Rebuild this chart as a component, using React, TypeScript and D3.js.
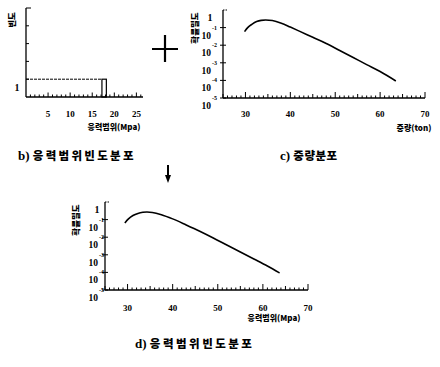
import React from 'react';
import * as d3 from 'd3';

// b) stress range frequency
const stressTickValues = [5, 10, 15, 20, 25];
const freqTickValues = [1, 2, 3, 4];
const freqBins = [{ x0: 17.2, x1: 18.2, count: 1 }];

// c) weight distribution (ton vs probability density)
const weightTickValues = [30, 40, 50, 60, 70];
const weightTon = [29.8, 30.5, 31.5, 32.5, 33.5, 34.5, 36, 38, 40, 42, 45, 48, 51, 54, 57, 60, 63.5];
const weightDensity = [0.059, 0.1, 0.158, 0.219, 0.257, 0.269, 0.251, 0.178, 0.107, 0.063, 0.028, 0.0126, 0.005, 0.002, 0.00079, 0.00032, 0.000093];

// d) stress range distribution (Mpa vs probability density)
const rangeTickValues = [30, 40, 50, 60, 70];
const rangeMpa = [29.4, 30.2, 31.2, 32.3, 33.4, 34.3, 35.5, 37.5, 40, 43, 46, 49, 52, 55, 58, 61, 63.7];
const rangeDensity = [0.065, 0.11, 0.17, 0.225, 0.26, 0.27, 0.255, 0.19, 0.11, 0.05, 0.022, 0.0091, 0.0036, 0.00145, 0.00058, 0.00023, 0.000093];

const densityTickExps = [0, -1, -2, -3, -4, -5];

const SERIF = '"Liberation Serif", "DejaVu Serif", serif';
const KR = '"Noto Sans CJK KR", sans-serif';

type LogProps = {
  left: number; right: number; top: number; bottom: number;
  domain: [number, number];
  xs: number[]; ys: number[]; ticks: number[];
  labelGap: number; yTitleX: number; xTitle: string; xTitleX: number; xTitleY: number; labelY: number;
};

const LogPanel = (p: LogProps) => {
  const x = d3.scaleLinear().domain(p.domain).range([p.left, p.right]);
  const y = d3.scaleLog().domain([1e-5, 1]).range([p.bottom, p.top]);
  const line = d3.line<number>()
    .x((_, i) => x(p.xs[i]))
    .y((d) => y(d))
    .curve(d3.curveMonotoneX);
  const minor = d3.range(Math.ceil(p.domain[0]), Math.floor(p.domain[1]) + 1);
  return (
    <g>
      <line x1={p.left} x2={p.left} y1={p.top} y2={p.bottom} stroke="#000" strokeWidth={1.3} />
      <line x1={p.left} x2={p.right} y1={p.bottom} y2={p.bottom} stroke="#000" strokeWidth={1.3} />
      <line x1={p.left} x2={p.left + 5} y1={p.top} y2={p.top} stroke="#000" strokeWidth={1} strokeDasharray="1.5,1" />
      {minor.map((v) => {
        const h = v % 10 === 0 ? 6 : v % 5 === 0 ? 4 : 2.5;
        return <line key={v} x1={x(v)} x2={x(v)} y1={p.bottom} y2={p.bottom - h} stroke="#000" strokeWidth={1} />;
      })}
      {p.ticks.map((t) => (
        <text key={t} x={x(t)} y={p.labelY} textAnchor="middle" fontFamily={SERIF} fontWeight="bold" fontSize={9}>{t}</text>
      ))}
      {densityTickExps.map((e) => {
        const ty = y(Math.pow(10, e));
        return (
          <g key={e}>
            {e < 0 && <line x1={p.left - 3} x2={p.left + 3} y1={ty} y2={ty} stroke="#000" strokeWidth={1} />}
            {e === 0 ? (
              <text x={p.left - p.labelGap - 1} y={ty + 11} textAnchor="middle" fontFamily={SERIF} fontWeight="bold" fontSize={10}>1</text>
            ) : (
              <g>
                <text x={p.left - p.labelGap} y={ty + 11} textAnchor="end" fontFamily={SERIF} fontWeight="bold" fontSize={9.5}>10</text>
                <text x={p.left - p.labelGap + 1} y={ty + 2} fontFamily={SERIF} fontWeight="bold" fontSize={6}>{e}</text>
              </g>
            )}
          </g>
        );
      })}
      <text transform={`translate(${p.yTitleX},${p.top + 18}) rotate(-90)`} textAnchor="middle" fontFamily={KR} fontWeight={900} fontSize={8.5}>확률밀도</text>
      <text x={p.xTitleX} y={p.xTitleY} textAnchor="middle" fontFamily={KR} fontWeight={900} fontSize={8}>{p.xTitle}</text>
      <path d={line(p.ys) || ''} fill="none" stroke="#000" strokeWidth={1.6} />
    </g>
  );
};

const FreqPanel = () => {
  const x = d3.scaleLinear().domain([0, 26.5]).range([26, 143]);
  const y = d3.scaleLinear().domain([0, 5]).range([97, 8]);
  return (
    <g>
      <line x1={x(0)} x2={x(0)} y1={y(5)} y2={y(0)} stroke="#000" strokeWidth={1.3} />
      <line x1={x(0)} x2={x(26.5)} y1={y(0)} y2={y(0)} stroke="#000" strokeWidth={1.3} />
      <line x1={x(0)} x2={x(0) + 5} y1={y(5)} y2={y(5)} stroke="#000" strokeWidth={1} />
      {freqTickValues.map((t) => (
        <line key={t} x1={x(0)} x2={x(0) + 3} y1={y(t)} y2={y(t)} stroke="#000" strokeWidth={1} />
      ))}
      <text x={17} y={y(1) + 12} textAnchor="middle" fontFamily={SERIF} fontWeight="bold" fontSize={10}>1</text>
      {d3.range(1, 27).map((v) => (
        <line key={v} x1={x(v)} x2={x(v)} y1={y(0)} y2={y(0) - (v % 5 === 0 ? 4.5 : 2.5)} stroke="#000" strokeWidth={1} />
      ))}
      {stressTickValues.map((t) => (
        <text key={t} x={x(t)} y={117} textAnchor="middle" fontFamily={SERIF} fontWeight="bold" fontSize={9}>{t}</text>
      ))}
      {freqBins.map((b, i) => (
        <g key={i}>
          <line x1={x(0)} x2={x(b.x0)} y1={y(b.count)} y2={y(b.count)} stroke="#000" strokeWidth={1} strokeDasharray="3,1" />
          <rect x={x(b.x0)} y={y(b.count)} width={x(b.x1) - x(b.x0)} height={y(0) - y(b.count)} fill="none" stroke="#000" strokeWidth={1.2} />
        </g>
      ))}
      <text transform="translate(15,20) rotate(-90)" textAnchor="middle" fontFamily={KR} fontWeight={900} fontSize={8.5}>빈도</text>
      <text x={114} y={130} textAnchor="middle" fontFamily={KR} fontWeight={900} fontSize={8}>응력범위(Mpa)</text>
    </g>
  );
};

export default function App() {
  return (
    <svg width={440} height={367} style={{ position: 'absolute', left: 0, top: 0, background: '#fff' }}>
      <FreqPanel />
      <LogPanel left={223} right={425} top={10} bottom={98} domain={[25, 70]} xs={weightTon} ys={weightDensity}
        ticks={weightTickValues} labelGap={12} yTitleX={198} xTitle="중량(ton)" xTitleX={414} xTitleY={131} labelY={117} />
      <LogPanel left={105} right={308} top={202} bottom={290} domain={[25, 70]} xs={rangeMpa} ys={rangeDensity}
        ticks={rangeTickValues} labelGap={7} yTitleX={79} xTitle="응력범위(Mpa)" xTitleX={274} xTitleY={321} labelY={311} />
      {/* plus sign */}
      <path d="M152,49H178M165,35V62" stroke="#000" strokeWidth={2.2} fill="none" />
      {/* down arrow */}
      <path d="M168,165V176" stroke="#000" strokeWidth={2} />
      <path d="M165,175L171,175L168,183Z" fill="#000" />
      <text x={18} y={160}>
        <tspan fontFamily={SERIF} fontWeight="bold" fontSize={13}>b) </tspan>
        <tspan fontFamily={KR} fontWeight={900} fontSize={11.5} letterSpacing={2.3}>응력범위빈도분포</tspan>
      </text>
      <text x={280} y={160}>
        <tspan fontFamily={SERIF} fontWeight="bold" fontSize={13}>c) </tspan>
        <tspan fontFamily={KR} fontWeight={900} fontSize={11.5} letterSpacing={0.5}>중량분포</tspan>
      </text>
      <text x={135} y={348}>
        <tspan fontFamily={SERIF} fontWeight="bold" fontSize={13}>d) </tspan>
        <tspan fontFamily={KR} fontWeight={900} fontSize={11.5} letterSpacing={2.5}>응력범위빈도분포</tspan>
      </text>
    </svg>
  );
}
